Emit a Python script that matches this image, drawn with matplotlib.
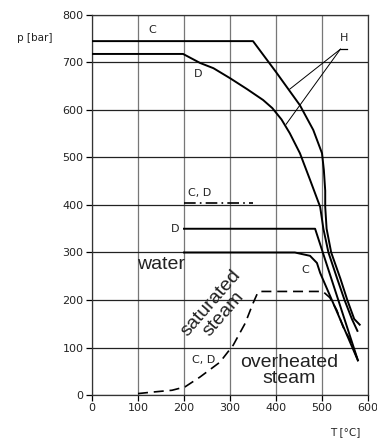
import matplotlib
matplotlib.use("Agg")
import matplotlib.pyplot as plt

# ---------- data ----------
# C curve with H (upper, outer)
c_h_T = [0, 350, 400, 452, 481, 500, 504, 507, 507, 510, 520, 540, 555, 570, 582]
c_h_p = [745, 745, 680, 610, 558, 509, 474, 430, 396, 350, 300, 245, 200, 160, 148]

# D curve with H
d_h_T = [0, 198, 235, 264, 300, 337, 372, 392, 412, 430, 452, 474, 496, 503, 514, 533, 549, 565, 577]
d_h_p = [718, 718, 699, 688, 667, 644, 621, 604, 580, 551, 509, 453, 396, 350, 300, 245, 200, 160, 135]

# D at 350 bar
d350_T = [200, 485, 578]
d350_p = [350, 350, 73]

# C at 300 bar
c300_T = [200, 441, 474, 489, 496, 578]
c300_p = [300, 300, 293, 278, 257, 73]

# saturation line (dashed)
sat_T = [100, 130, 174, 202, 235, 278, 307, 333, 350, 361, 370, 502, 517, 532, 546, 561, 578]
sat_p = [3, 6, 10, 17, 38, 69, 105, 151, 193, 217, 218, 218, 205, 179, 143, 116, 73]

# C, D dash-dot line
cd_T = [200, 350]
cd_p = [405, 405]

# leader lines for label H
h_anchor = (540, 728)
h_targets_T = [430, 422]
h_targets_p = [644, 570]

xticks = [0, 100, 200, 300, 400, 500, 600]
yticks = [0, 100, 200, 300, 400, 500, 600, 700, 800]

# ---------- plot ----------
fig = plt.figure(figsize=(3.77, 4.41), dpi=100)
ax = fig.add_axes([92/377, 46/441, 276/377, 380/441])

for x in xticks:
    ax.axvline(x, color="#777777", lw=0.9, zorder=1)
for y in yticks:
    ax.axhline(y, color="#222222", lw=0.9, zorder=1)

lk = dict(color="black", lw=1.4, zorder=3)
ax.plot(c_h_T, c_h_p, **lk)
ax.plot(d_h_T, d_h_p, **lk)
ax.plot(d350_T, d350_p, **lk)
ax.plot(c300_T, c300_p, **lk)
ax.plot(sat_T, sat_p, color="black", lw=1.2, ls=(0, (6, 3.5)), zorder=3)
ax.plot(cd_T, cd_p, color="black", lw=1.2, ls=(0, (7, 2.5, 1, 2.5)), zorder=3)

# H leaders
for tx, tp in zip(h_targets_T, h_targets_p):
    ax.plot([h_anchor[0], tx], [h_anchor[1], tp], color="black", lw=0.7, zorder=3)
ax.plot([h_anchor[0], h_anchor[0] + 15], [h_anchor[1]] * 2, color="black", lw=0.9, zorder=3)

small = dict(fontsize=8, color="#222222", ha="center", va="center")
ax.text(130, 768, "C", **small)
ax.text(230, 676, "D", **small)
ax.text(547, 752, "H", **small)
ax.text(235, 425, "C, D", **small)
ax.text(190, 350, "D", fontsize=8, color="#222222", ha="right", va="center")
ax.text(463, 263, "C", **small)
ax.text(242, 74, "C, D", **small)

big = dict(family=["Liberation Sans", "DejaVu Sans"], fontsize=14, color="#222222")
ax.text(150, 274, "water", ha="center", va="center", **big)
ax.text(272, 182, "saturated\nsteam", ha="center", va="center", rotation=49,
        linespacing=0.9, **big)
ax.text(428, 52, "overheated\nsteam", ha="center", va="center", linespacing=0.9, **big)

ax.text(-0.207, 0.939, "p [bar]", transform=ax.transAxes, fontsize=7.5,
        color="#222222", ha="center", va="center")
ax.text(0.917, -0.097, "T [°C]", transform=ax.transAxes, fontsize=7.5,
        color="#222222", ha="center", va="center")

ax.set_xlim(0, 600)
ax.set_ylim(0, 800)
ax.set_xticks(xticks)
ax.set_yticks(yticks)
ax.tick_params(length=4, width=0.9, labelsize=8, labelcolor="#222222", pad=2)
for s in ax.spines.values():
    s.set_linewidth(0.9)
    s.set_color("#333333")

fig.savefig("out.png", dpi=100)
